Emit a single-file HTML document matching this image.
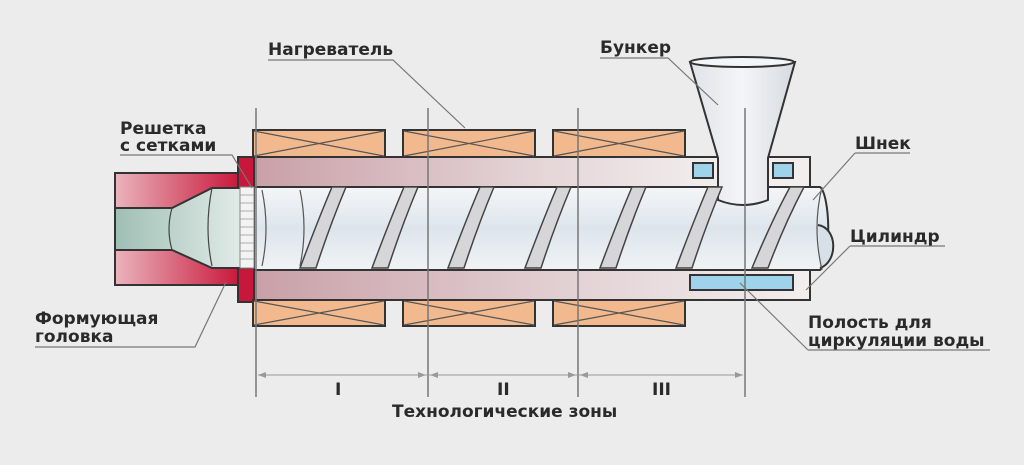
<!DOCTYPE html>
<html><head><meta charset="utf-8"><style>
html,body{margin:0;padding:0;background:#ececec;}
svg{display:block;}
text{font-family:"DejaVu Sans","Liberation Sans",sans-serif;font-weight:bold;fill:#2a2a2a;font-size:17px;}
</style></head><body>
<svg width="1024" height="465" viewBox="0 0 1024 465" xmlns="http://www.w3.org/2000/svg">
<defs>
<linearGradient id="red" x1="0" x2="1" y1="0" y2="0"><stop offset="0" stop-color="#eab4bd"/><stop offset="1" stop-color="#c8173a"/></linearGradient>
<linearGradient id="band" x1="0" x2="1" y1="0" y2="0"><stop offset="0" stop-color="#c9a0a8"/><stop offset="0.6" stop-color="#e4d4d6"/><stop offset="1" stop-color="#f2eeee"/></linearGradient>
<linearGradient id="screw" x1="0" x2="0" y1="0" y2="1"><stop offset="0" stop-color="#f4f6f8"/><stop offset="0.5" stop-color="#dde5ec"/><stop offset="1" stop-color="#f0f3f5"/></linearGradient>
<linearGradient id="green" x1="0" x2="1" y1="0" y2="0"><stop offset="0" stop-color="#9fbfb4"/><stop offset="1" stop-color="#e6eeec"/></linearGradient>
<linearGradient id="hop" x1="0" x2="1"><stop offset="0" stop-color="#dfe3e8"/><stop offset="0.5" stop-color="#f4f5f7"/><stop offset="1" stop-color="#d6dbe1"/></linearGradient>
</defs>
<g stroke="#333" stroke-width="2">
<rect x="115" y="173" width="125" height="112" fill="url(#red)"/>
<rect x="238" y="157" width="16" height="145" fill="#c8173a"/>
<path d="M115 208 H172 L212 188 H250 V268 H212 L172 250 H115 Z" fill="url(#green)"/>
<g fill="#f3b98e">
<rect x="253" y="130" width="132" height="27"/><rect x="403" y="130" width="132" height="27"/><rect x="553" y="130" width="132" height="27"/>
<rect x="253" y="300" width="132" height="26"/><rect x="403" y="300" width="132" height="26"/><rect x="553" y="300" width="132" height="26"/>
</g>
<path d="M254 157 H718 V187 H254 Z" fill="url(#band)"/>
<rect x="768" y="157" width="42" height="30" fill="#f2eeee"/>
<rect x="254" y="270" width="556" height="30" fill="url(#band)"/>
<path d="M254 187 H820 C830 195 832 258 820 270 H254 Z" fill="url(#screw)"/>
<path d="M818 225 C838 228 838 262 820 268" fill="#d8e0e7"/>
<path d="M690 62 L718 158 V200 Q743 210 768 200 V158 L795 62 Z" fill="url(#hop)"/>
<ellipse cx="742" cy="62" rx="52" ry="5" fill="#f4f5f7"/>
<g fill="#9fd3ec"><rect x="693" y="163" width="20" height="15"/><rect x="773" y="163" width="20" height="15"/><rect x="690" y="275" width="103" height="15"/></g>
</g>
<!-- heater crosses -->
<g stroke="#555" stroke-width="1.2">
<path d="M254 131 L384 156 M254 156 L384 131 M404 131 L534 156 M404 156 L534 131 M554 131 L684 156 M554 156 L684 131"/>
<path d="M254 301 L384 325 M254 325 L384 301 M404 301 L534 325 M404 325 L534 301 M554 301 L684 325 M554 325 L684 301"/>
</g>
<!-- cone outlines -->
<g stroke="#444" stroke-width="1.2" fill="none">
<path d="M172 208 Q166 229 172 250"/><path d="M212 188 Q204 228 212 266"/>
</g>
<g stroke="#888" stroke-width="1" fill="#f3f3f3"><rect x="240" y="187" width="14" height="81"/></g>
<g stroke="#999" stroke-width="0.8"><path d="M240 195H254M240 203H254M240 211H254M240 219H254M240 227H254M240 235H254M240 243H254M240 251H254M240 259H254"/></g>
<g fill="#d6d6d8" stroke="#444" stroke-width="1.5">
<path d="M300 268 Q318 220 332 187 L346 187 Q330 225 316 268 Z"/>
<path d="M372 268 Q390 220 404 187 L418 187 Q402 225 388 268 Z"/>
<path d="M448 268 Q466 220 480 187 L494 187 Q478 225 464 268 Z"/>
<path d="M525 268 Q543 220 557 187 L571 187 Q555 225 541 268 Z"/>
<path d="M600 268 Q618 220 632 187 L646 187 Q630 225 616 268 Z"/>
<path d="M676 268 Q694 220 708 187 L722 187 Q706 225 692 268 Z"/>
<path d="M752 268 Q772 220 790 187 L804 187 Q784 225 768 268 Z"/>
</g>
<g fill="none" stroke="#555" stroke-width="1.2">
<path d="M262 190 Q270 228 262 266"/><path d="M300 190 Q308 228 300 266"/>
<path d="M822 187 Q812 228 822 270"/>
</g>
<g stroke="#777" stroke-width="1.5">
<line x1="256" y1="108" x2="256" y2="397"/><line x1="428" y1="108" x2="428" y2="397"/>
<line x1="578" y1="108" x2="578" y2="397"/><line x1="745" y1="108" x2="745" y2="397"/>
</g>
<g stroke="#999" stroke-width="1"><line x1="258" y1="375" x2="743" y2="375"/></g>
<g fill="#999">
<path d="M258 375 l8 -3 v6z"/><path d="M426 375 l-8 -3 v6z"/><path d="M430 375 l8 -3 v6z"/><path d="M576 375 l-8 -3 v6z"/><path d="M580 375 l8 -3 v6z"/><path d="M743 375 l-8 -3 v6z"/>
</g>
<g stroke="#777" stroke-width="1.2" fill="none">
<path d="M268 60 H393 L465 128"/>
<path d="M600 58 H668 L718 105"/>
<path d="M855 153 H910 M855 153 L813 200"/>
<path d="M850 246 H945 M850 246 L806 290"/>
<path d="M808 350 H990 M808 350 L740 283"/>
<path d="M120 155 H232 L252 188"/>
<path d="M35 347 H195 L226 282"/>
</g>
<text x="268" y="55">Нагреватель</text>
<text x="600" y="53">Бункер</text>
<text x="855" y="149">Шнек</text>
<text x="850" y="242">Цилиндр</text>
<text x="808" y="328">Полость для</text>
<text x="808" y="346">циркуляции воды</text>
<text x="120" y="134">Решетка</text>
<text x="120" y="151">с сетками</text>
<text x="35" y="324">Формующая</text>
<text x="35" y="342">головка</text>
<text x="335" y="395" font-size="14">I</text>
<text x="497" y="395" font-size="14">II</text>
<text x="652" y="395" font-size="14">III</text>
<text x="392" y="417">Технологические зоны</text>
</svg>
</body></html>
